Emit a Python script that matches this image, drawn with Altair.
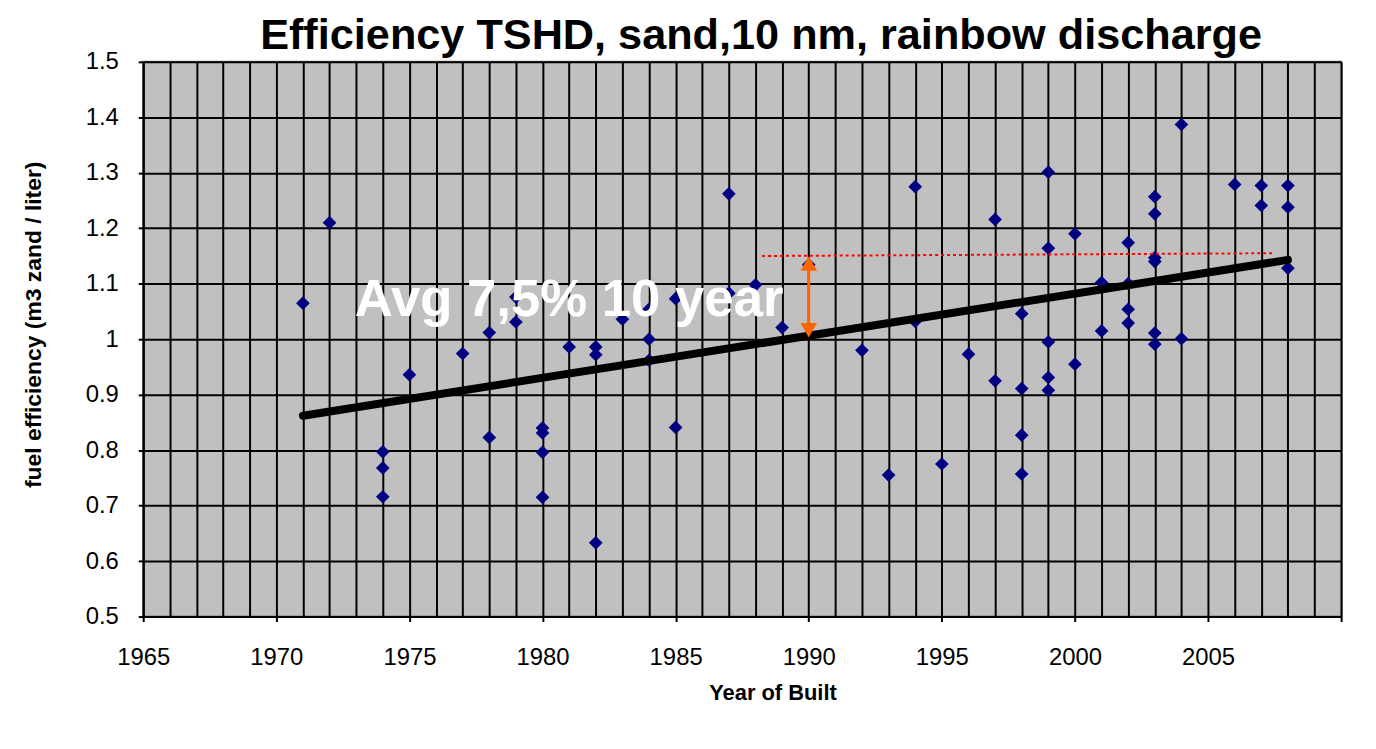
import altair as alt
import pandas as pd

# ---- data ----
pt_years = [1971, 1972, 1974, 1974, 1974, 1975, 1977, 1978, 1978, 1979, 1979,
            1980, 1980, 1980, 1980, 1981, 1982, 1982, 1982, 1983, 1984, 1984, 1984,
            1985, 1985, 1987, 1987, 1988, 1989, 1990, 1992, 1993, 1994, 1994, 1995,
            1996, 1997, 1997, 1998, 1998, 1998, 1998, 1999, 1999, 1999, 1999, 1999,
            2000, 2000, 2001, 2001, 2002, 2002, 2002, 2002, 2003, 2003, 2003, 2003,
            2003, 2003, 2004, 2004, 2006, 2007, 2007, 2008, 2008, 2008]
pt_values = [1.065, 1.210, 0.797, 0.768, 0.716, 0.936, 0.974, 1.012, 0.823, 1.076, 1.031,
             0.840, 0.831, 0.796, 0.715, 0.986, 0.986, 0.972, 0.633, 1.036, 1.054, 1.000, 0.962,
             1.073, 0.841, 1.262, 1.083, 1.098, 1.021, 1.134, 0.980, 0.755, 1.275, 1.032, 0.775,
             0.973, 1.216, 0.925, 1.046, 0.911, 0.827, 0.757, 1.301, 1.164, 0.995, 0.931, 0.908,
             1.190, 0.955, 1.102, 1.015, 1.174, 1.100, 1.054, 1.029, 1.257, 1.226, 1.147, 1.140,
             1.011, 0.991, 1.387, 1.001, 1.279, 1.277, 1.241, 1.277, 1.238, 1.128]

trend_years = [1971, 2008]
trend_values = [0.862, 1.143]

ref_years = [1988.25, 2007.5]
ref_values = [1.150, 1.155]

arrow_years = [1990]
arrow_tops = [1.138]
arrow_bottoms = [1.014]
arrow_head_top = [1.1365]
arrow_head_bottom = [1.016]

note_years = [1981.0]
note_values = [1.041]
note_texts = ["Avg 7,5% 10 year"]

grid_years = list(range(1965, 2011))
y_ticks = [0.5, 0.6, 0.7, 0.8, 0.9, 1.0, 1.1, 1.2, 1.3, 1.4, 1.5]

title_text = "Efficiency TSHD, sand,10 nm, rainbow discharge"
x_title = "Year of Built"
y_title = "fuel efficiency (m3 zand / liter)"

FONT = "Liberation Sans"

pts = pd.DataFrame({"year": pt_years, "value": pt_values})
trend = pd.DataFrame({"year": trend_years, "value": trend_values})
ref = pd.DataFrame({"year": ref_years, "value": ref_values})
arrow = pd.DataFrame({"year": arrow_years, "top": arrow_tops, "bottom": arrow_bottoms,
                      "htop": arrow_head_top, "hbot": arrow_head_bottom})
note = pd.DataFrame({"year": note_years, "value": note_values, "text": note_texts})

xscale = alt.Scale(domain=[1965, 2010], nice=False, zero=False)
yscale = alt.Scale(domain=[0.5, 1.5], nice=False, zero=False)

x_axis = alt.Axis(
    values=grid_years, tickCount=200, grid=True, gridColor="black", gridWidth=2,
    gridOpacity=1,
    tickOpacity={"condition": {"test": "datum.value % 5 === 0", "value": 1}, "value": 0},
    tickSize=5, tickColor="black", tickWidth=2,
    labelExpr="(datum.value % 5 === 0 && datum.value < 2010) ? datum.label : ''",
    format="d", labelOverlap=False, labelFlush=False,
    labelFont=FONT, labelFontSize=24, labelColor="black", labelPadding=24,
    domainColor="black", domainWidth=2,
    title=x_title, titleFont=FONT, titleFontSize=22, titleFontWeight="bold",
    titleColor="black", titleX=633, titleY=83, titleAlign="center",
    titleBaseline="alphabetic",
)
y_axis = alt.Axis(
    values=y_ticks, tickCount=50, grid=True, gridColor="black", gridWidth=2,
    gridOpacity=1,
    tickSize=5, tickColor="black", tickWidth=2, format="~g",
    labelFont=FONT, labelFontSize=24, labelColor="black", labelPadding=20,
    domainColor="black", domainWidth=2,
    title=y_title, titleFont=FONT, titleFontSize=23, titleFontWeight="bold",
    titleColor="black", titleX=-110, titleY=264, titleAngle=270,
    titleAlign="center", titleBaseline="middle",
)

points = alt.Chart(pts).mark_point(
    shape="diamond", filled=True, color="#000080", size=190, opacity=1
).encode(
    x=alt.X("year:Q", scale=xscale, axis=x_axis),
    y=alt.Y("value:Q", scale=yscale, axis=y_axis),
)

trend_line = alt.Chart(trend).mark_line(
    color="black", strokeWidth=8, strokeCap="round"
).encode(x="year:Q", y="value:Q")

ref_line = alt.Chart(ref).mark_line(
    color="#FF0000", strokeWidth=2, strokeDash=[3, 3]
).encode(x="year:Q", y="value:Q")

shaft = alt.Chart(arrow).mark_rule(color="#FF6600", strokeWidth=3).encode(
    x="year:Q", y="top:Q", y2="bottom:Q"
)
head_up = alt.Chart(arrow).mark_point(
    shape="triangle-up", filled=True, color="#FF6600", size=280, opacity=1
).encode(x="year:Q", y="htop:Q")
head_down = alt.Chart(arrow).mark_point(
    shape="triangle-down", filled=True, color="#FF6600", size=280, opacity=1
).encode(x="year:Q", y="hbot:Q")

label = alt.Chart(note).mark_text(
    font=FONT, fontSize=53, fontWeight="bold", color="white",
    align="center", baseline="alphabetic"
).encode(x="year:Q", y="value:Q", text="text:N")

chart = alt.layer(
    points, trend_line, ref_line, shaft, head_up, head_down, label
).properties(
    width=1205, height=558,
    title=alt.TitleParams(
        text=title_text, font=FONT, fontSize=43.5, fontWeight="bold", color="black",
        anchor="middle", frame="group", dx=19, dy=52, offset=0, baseline="bottom",
    ),
    autosize=alt.AutoSizeParams(type="none"),
    padding={"left": 136, "top": 52, "right": 27, "bottom": 120},
).configure(
    background="white"
).configure_view(
    fill="#C0C0C0", stroke="#808080", strokeWidth=2
)

chart.save("out.html", embed_options={"renderer": "svg", "actions": False})
